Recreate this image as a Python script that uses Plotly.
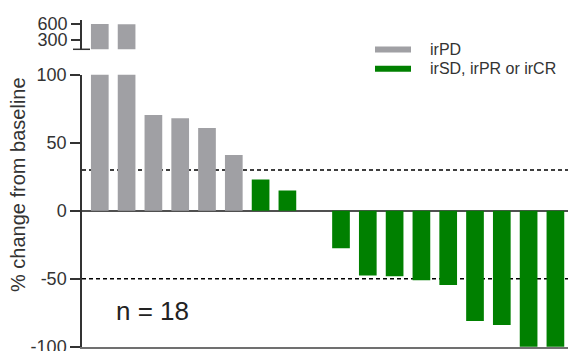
import plotly.graph_objects as go

# Best percent change from baseline per patient (sorted waterfall)
patients = [f"P{i}" for i in range(1, 19)]
pct_change = [600, 595, 70.5, 68, 61, 41, 23, 15, 0,
              -27.5, -47.5, -48, -51, -54.5, -81, -84, -100, -100]
response = ["irPD"] * 6 + ["irSD, irPR or irCR"] * 12

colors = {"irPD": "#a0a0a4", "irSD, irPR or irCR": "#008000"}
groups = ["irPD", "irSD, irPR or irCR"]

main_ticks = [-100, -50, 0, 50, 100]
main_ticktext = ["-100", "-50", "0", "50", "100"]
upper_ticks = [300, 600]
upper_ticktext = ["300", "600"]
reference_levels = [30, -50]
n_label = "n = 18"

FONT = "Arial, Liberation Sans, sans-serif"
TXT = "#333333"

fig = go.Figure()
bar_colors = [colors[r] for r in response]

# lower (main) panel and upper (broken) panel show the same bars
for xa, ya in (("x", "y"), ("x2", "y2")):
    fig.add_trace(go.Bar(
        x=patients, y=pct_change, marker=dict(color=bar_colors, line=dict(width=0)),
        width=0.66, xaxis=xa, yaxis=ya, showlegend=False,
    ))

W, H = 568, 351
ml, mr, mt, mb = 82, 0, 20, 4
ph = H - mt - mb
pw = W - ml - mr
def py(pix):
    return (H - mb - pix) / ph
def px(pix):
    return (pix - ml) / pw

fig.update_layout(
    width=W, height=H,
    margin=dict(l=ml, r=mr, t=mt, b=mb, autoexpand=False),
    plot_bgcolor="white", paper_bgcolor="white",
    font=dict(family=FONT, color=TXT, size=18),
    bargap=0.34,
    xaxis=dict(range=[-0.664, 17.47], showticklabels=False, ticks="",
               showgrid=False, zeroline=False, showline=True, automargin=False,
               linecolor="#707070", linewidth=1.5, anchor="y"),
    yaxis=dict(domain=[0, py(74.7)], range=[-100.1, 100.1],
               tickvals=main_ticks, ticktext=main_ticktext,
               ticklabeloverflow="allow", automargin=False,
               ticks="outside", ticklen=10, tickwidth=1.5, tickcolor="#333333",
               showline=True, linecolor="#333333", linewidth=1.5,
               showgrid=False, zeroline=True, zerolinecolor="#505050",
               zerolinewidth=1.5, tickfont=dict(size=18, color=TXT)),
    xaxis2=dict(matches="x", anchor="y2", visible=False, automargin=False),
    yaxis2=dict(domain=[py(49.3), 1], range=[125.6, 675], anchor="x2",
                tickvals=upper_ticks, ticktext=upper_ticktext, automargin=False,
                ticks="outside", ticklen=9, tickwidth=1.5, tickcolor="#333333",
                showline=True, linecolor="#333333", linewidth=1.5,
                showgrid=False, zeroline=False, tickfont=dict(size=18, color=TXT)),
)

# dashed reference levels behind the bars
for lvl in reference_levels:
    fig.add_shape(type="line", xref="x domain", x0=0, x1=1, yref="y", y0=lvl, y1=lvl,
                  line=dict(color="black", width=1.5, dash="4px,3px"), layer="below")

# break marker at the bottom of the upper panel
fig.add_shape(type="line", xref="paper", x0=px(73), x1=px(90),
              yref="y2 domain", y0=0, y1=0,
              line=dict(color="#333333", width=1.5))

# legend drawn as swatches with labels
for name, cy in zip(groups, (49.5, 68.7)):
    fig.add_shape(type="rect", xref="paper", yref="paper",
                  x0=px(375), x1=px(411), y0=py(cy + 3), y1=py(cy - 3),
                  fillcolor=colors[name], line=dict(width=0))
    fig.add_annotation(xref="paper", yref="paper", x=px(428), y=py(cy),
                       text=name, showarrow=False, xanchor="left", yanchor="middle",
                       font=dict(size=16, color=TXT, family=FONT))

# y-axis title
fig.add_annotation(xref="paper", yref="paper", x=px(18), y=py(185),
                   text="% change from baseline", textangle=-90, showarrow=False,
                   xanchor="center", yanchor="middle",
                   font=dict(size=20, color=TXT, family=FONT))

# sample size
fig.add_annotation(xref="paper", yref="paper", x=px(152.5), y=py(311),
                   text=n_label, showarrow=False, xanchor="center", yanchor="middle",
                   font=dict(size=26, color="#222222", family=FONT))

fig.write_html("out.html")
